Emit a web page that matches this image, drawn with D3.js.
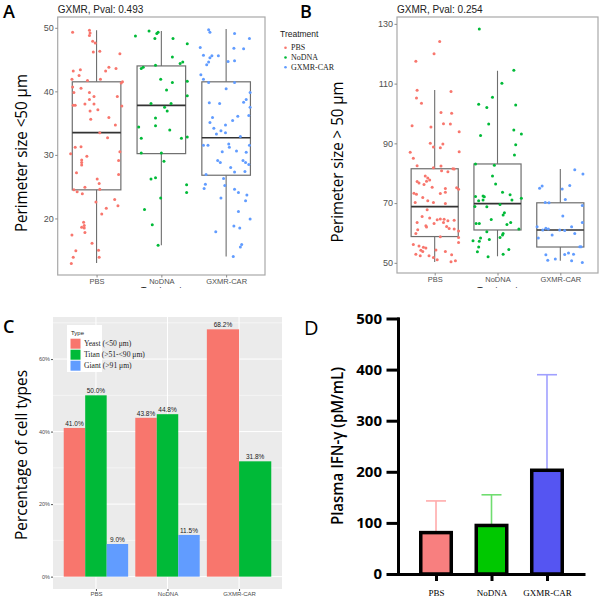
<!DOCTYPE html>
<html>
<head>
<meta charset="utf-8">
<script src="https://cdn.jsdelivr.net/npm/d3@7"></script>
<style>
  body { margin: 0; background: #fff; }
  text { font-family: "Liberation Sans", Arial, sans-serif; }
</style>
</head>
<body>
<svg id="fig" width="600" height="597"></svg>
<script>
const treatments = ["PBS", "NoDNA", "GXMR-CAR"];
const treatColors = ["#F8766D", "#00BA38", "#619CFF"];

// Panel A: perimeter < 50 um, points are [jitter, value]
const smallPBS = [[-0.37,49.3],[-0.11,49.6],[-0.10,49.2],[-0.11,48.8],[-0.06,47.9],[-0.02,47.6],[-0.05,46.2],[0.05,46.3],[0.36,45.9],
  [-0.36,43.2],[-0.25,43.4],[-0.27,42.5],[0.14,43.2],[0.19,43.8],[0.30,43.6],[-0.38,41.9],[-0.14,41.7],[0.06,41.9],[0.40,41.5],[0.38,41.3],
  [-0.37,40.7],[-0.24,40.5],[-0.35,39.8],[-0.11,39.8],[-0.04,39.2],[0.32,39.2],[-0.11,38.7],[-0.36,37.8],[-0.33,37.8],[-0.18,38.0],
  [-0.04,38.0],[0.39,37.7],[-0.10,36.9],[0.02,37.1],[0.19,35.9],[-0.09,35.6],[0.29,34.7],[0.05,33.5],[0.17,32.7],[-0.33,31.2],[-0.24,31.3],
  [-0.40,30.2],[-0.15,29.8],[-0.23,29.2],[-0.23,28.8],[-0.23,28.4],[-0.31,27.2],[0.36,30.5],[0.34,29.1],[0.34,26.9],[0.01,26.2],[0.04,25.5],
  [-0.18,24.9],[0.05,24.6],[-0.35,24.5],[-0.30,24.2],[-0.22,23.9],[0.28,23.0],[-0.01,22.6],[0.33,22.0],[0.15,21.6],[0.08,20.7],
  [-0.20,19.4],[-0.19,18.9],[-0.23,18.6],[-0.19,18.5],[-0.18,17.8],[-0.38,17.4],[-0.07,16.1],[-0.32,14.9],[0.03,15.0],[-0.36,13.9],
  [0.04,13.9],[-0.39,12.9]];
const smallNoDNA = [[-0.40,48.7],[-0.19,49.5],[-0.07,49.1],[-0.05,49.3],[-0.10,48.3],[0.18,48.3],[0.40,47.5],[0.17,45.4],[0.33,44.6],
  [0.29,44.4],[-0.31,43.6],[-0.28,43.8],[-0.09,44.1],[-0.01,41.9],[0.17,41.4],[0.40,41.6],[0.08,40.2],[0.40,39.3],[-0.16,38.1],[0.15,38.1],
  [0.05,37.5],[0.09,36.9],[-0.09,35.8],[-0.09,34.6],[-0.35,34.4],[0.13,33.9],[-0.31,32.6],[0.31,32.6],[0.40,32.8],[-0.31,30.3],[0.00,30.3],
  [0.04,29.0],[-0.16,26.2],[-0.09,26.4],[0.39,25.3],[0.39,24.1],[-0.01,23.2],[-0.26,21.4],[-0.14,19.0],[-0.05,15.8]];
const smallGXMR = [[-0.27,49.7],[-0.25,49.3],[0.13,49.1],[0.36,48.3],[-0.40,46.9],[0.12,46.8],[0.27,46.7],[-0.35,45.7],[-0.22,45.6],
  [-0.25,45.3],[-0.12,45.6],[-0.30,44.2],[-0.27,44.6],[0.03,44.7],[0.13,44.8],[-0.39,42.6],[-0.35,41.9],[-0.27,41.4],[0.13,41.4],[0.00,40.4],
  [0.37,39.8],[0.31,38.7],[0.27,38.3],[-0.26,38.2],[-0.10,38.1],[0.37,37.5],[0.35,36.2],[-0.21,35.9],[0.18,36.1],[0.10,35.4],[-0.25,35.1],
  [-0.01,34.7],[-0.19,34.2],[-0.08,33.8],[-0.15,33.3],[-0.01,33.5],[0.22,32.9],[-0.35,31.5],[-0.28,31.5],[0.04,31.7],[0.36,31.5],[0.05,31.2],
  [-0.06,30.5],[0.16,30.6],[0.31,30.4],[-0.13,29.1],[-0.09,28.8],[0.26,29.1],[0.30,28.8],[0.35,28.5],[0.07,28.0],[0.13,27.3],[0.29,27.4],
  [-0.31,26.9],[-0.04,26.3],[-0.32,25.4],[-0.02,25.2],[-0.34,24.7],[0.13,24.6],[0.19,24.1],[0.32,23.7],[-0.08,23.2],[0.30,22.8],[0.19,21.1],
  [0.37,19.9],[0.12,18.8],[0.21,18.5],[-0.16,17.9],[0.24,15.9],[0.22,15.5],[0.11,14.0]];
// [lower whisker, Q1, median, Q3, upper whisker]
const smallBoxes = [[13.0,24.5,33.5,41.5,49.6],[15.8,30.2,37.8,44.0,49.5],[14.0,26.8,32.7,41.5,49.8]];
const smallTicks = [20, 30, 40, 50];

// Panel B: perimeter > 50 um
const largePBS = [[-0.30,117.5],[-0.01,120.0],[0.08,124.1],[-0.28,107.8],[-0.29,105.2],[-0.21,103.4],[0.26,107.4],[-0.36,95.9],
  [-0.06,95.5],[0.10,100.3],[0.27,100.1],[0.14,96.6],[0.25,96.5],[0.39,93.9],[-0.07,90.0],[-0.02,88.8],[0.13,89.8],[0.09,88.5],
  [-0.39,87.0],[-0.34,85.0],[0.39,87.2],[-0.28,82.5],[-0.02,81.8],[0.10,82.4],[0.11,80.8],[0.29,81.5],[0.31,81.4],[0.21,80.5],
  [-0.15,79.1],[-0.11,78.4],[-0.28,77.2],[-0.25,76.7],[-0.17,76.2],[-0.13,77.3],[-0.08,77.7],[-0.04,75.3],[0.17,74.9],[0.17,73.6],
  [0.35,75.1],[0.38,74.6],[-0.29,73.0],[-0.33,73.3],[0.09,73.2],[-0.19,71.9],[-0.11,70.8],[-0.02,70.2],[0.17,69.9],[-0.31,70.2],
  [-0.12,67.8],[-0.20,65.5],[-0.08,65.0],[0.04,64.4],[0.09,64.7],[0.15,64.6],[0.14,63.5],[0.21,64.1],[0.31,64.3],[-0.28,63.5],
  [-0.14,62.4],[-0.01,63.2],[0.19,62.2],[0.23,61.5],[-0.13,62.0],[-0.27,61.1],[0.31,61.3],[0.38,60.7],[-0.30,59.8],[0.09,58.7],
  [0.38,58.5],[0.38,56.8],[-0.34,56.1],[-0.25,55.6],[-0.18,55.2],[-0.14,55.0],[-0.22,54.2],[-0.19,53.8],[0.02,54.3],[0.17,53.8],
  [-0.30,52.9],[-0.23,52.4],[-0.09,52.4],[-0.02,51.8],[0.04,51.0],[0.27,52.7],[0.33,50.7],[0.26,50.4]];
const largeNoDNA = [[-0.29,128.3],[0.07,110.1],[0.26,114.5],[-0.08,105.4],[-0.30,103.1],[-0.17,102.0],[0.29,102.8],[-0.14,96.5],
  [-0.27,92.6],[0.26,94.5],[0.38,93.1],[0.29,89.5],[0.27,86.1],[-0.35,83.1],[-0.05,82.7],[-0.08,79.1],[-0.03,76.4],[0.08,73.6],
  [-0.35,72.2],[-0.23,72.4],[-0.21,72.1],[0.20,72.8],[0.38,71.6],[0.23,71.0],[-0.30,70.8],[-0.23,71.0],[-0.36,68.9],[-0.17,68.8],
  [0.04,69.5],[0.11,66.8],[0.09,66.0],[-0.10,64.5],[-0.34,63.2],[-0.29,63.2],[0.21,63.5],[0.15,62.8],[0.34,61.3],[-0.17,60.4],
  [0.08,59.3],[0.04,58.5],[-0.27,58.3],[-0.39,57.4],[-0.29,57.2],[-0.13,57.8],[0.09,59.8],[-0.30,55.3],[0.18,54.5],[-0.32,53.7],
  [0.09,52.9],[-0.15,52.0]];
const largeGXMR = [[-0.33,75.0],[-0.29,75.7],[0.03,74.7],[0.15,75.9],[0.23,81.2],[0.36,79.7],[0.08,71.2],[-0.24,70.2],[-0.18,70.1],
  [0.35,69.2],[0.04,65.7],[-0.37,62.1],[-0.23,61.6],[-0.19,61.3],[-0.28,61.0],[-0.01,61.0],[0.07,60.8],[0.23,59.8],[-0.13,59.3],
  [0.35,63.5],[0.18,62.1],[-0.35,58.3],[0.31,55.4],[0.33,55.4],[-0.23,52.7],[-0.08,51.3],[-0.20,50.9],[0.13,53.3],[0.21,52.9],
  [0.18,50.7],[0.35,50.1],[0.07,52.8]];
const largeBoxes = [[50.3,58.8,68.8,81.5,107.9],[52.2,61.0,69.8,83.1,114.3],[50.7,55.3,61.0,70.1,81.4]];
const largeTicks = [50, 70, 90, 110, 130];

// Panel C: percentage of cell types
const cellTypes = ["Yeast (<50 \u03bcm)", "Titan (>51-<90 \u03bcm)", "Giant (>91 \u03bcm)"];
const typeColors = ["#F8766D", "#00BA38", "#619CFF"];
const yeastPct = [41.0, 43.8, 68.2];
const titanPct = [50.0, 44.8, 31.8];
const giantPct = [9.0, 11.5, null];
const pctTicks = [0, 20, 40, 60];

// Panel D: plasma IFN-gamma
const ifnMean = [81, 95, 203];
const ifnUpper = [143, 155, 390];
const ifnFill = ["#f87f7f", "#00c800", "#5555f2"];
const ifnErr = ["#ffabab", "#70dd70", "#a0a0ff"];
const ifnTicks = [0, 100, 200, 300, 400, 500];

const svg = d3.select("#fig");

function panelLetter(s, x, y, size, weight) {
  svg.append("text").attr("x", x).attr("y", y).text(s)
    .style("font-family", "'Open Sans'").style("font-size", size + "px").style("font-weight", weight);
}

function rotLabel(s, x, y, len, size, weight) {
  svg.append("text").attr("transform", `translate(${x},${y}) rotate(-90)`)
    .attr("text-anchor", "middle").attr("textLength", len).attr("lengthAdjust", "spacingAndGlyphs")
    .style("font-family", "'Open Sans'").style("font-size", size + "px").style("font-weight", weight)
    .text(s);
}

function boxPanel(o) {
  const g = svg.append("g");
  const x = d3.scaleLinear().domain([0.4, 3.6]).range([o.left, o.right]);
  const y = d3.scaleLinear().domain(o.yDomain).range([o.bottom, o.top]);
  const hw = x(1.375) - x(1);

  o.boxes.forEach(function(b, i) {
    const cx = x(i + 1);
    g.append("line").attr("x1", cx).attr("x2", cx).attr("y1", y(b[0])).attr("y2", y(b[1]))
      .attr("stroke", "#6e6e6e").attr("stroke-width", 1.1);
    g.append("line").attr("x1", cx).attr("x2", cx).attr("y1", y(b[3])).attr("y2", y(b[4]))
      .attr("stroke", "#6e6e6e").attr("stroke-width", 1.1);
    g.append("rect").attr("x", cx - hw).attr("y", y(b[3])).attr("width", 2 * hw).attr("height", y(b[1]) - y(b[3]))
      .attr("fill", "none").attr("stroke", "#6e6e6e").attr("stroke-width", 1.2);
    g.append("line").attr("x1", cx - hw).attr("x2", cx + hw).attr("y1", y(b[2])).attr("y2", y(b[2]))
      .attr("stroke", "#333").attr("stroke-width", 1.7);
  });

  o.points.forEach(function(pts, i) {
    g.selectAll(null).data(pts).join("circle")
      .attr("cx", d => x(i + 1 + d[0]))
      .attr("cy", d => y(d[1]))
      .attr("r", 1.5)
      .attr("fill", treatColors[i]);
  });

  g.append("rect").attr("x", o.left).attr("y", o.top).attr("width", o.right - o.left).attr("height", o.bottom - o.top)
    .attr("fill", "none").attr("stroke", "#a8a8a8").attr("stroke-width", 1.2);

  const ya = g.append("g").attr("transform", `translate(${o.left},0)`)
    .call(d3.axisLeft(y).tickValues(o.ticks).tickSize(2.5).tickPadding(1.5).tickFormat(d3.format("d")));
  ya.select(".domain").remove();
  ya.selectAll("line").attr("stroke", "#8a8a8a");
  ya.selectAll("text").attr("fill", "#505050").style("font-size", "9px").style("font-family", "'Liberation Sans'");

  const xa = g.append("g").attr("transform", `translate(0,${o.bottom})`)
    .call(d3.axisBottom(x).tickValues([1, 2, 3]).tickFormat(i => treatments[i - 1]).tickSize(2.5).tickPadding(1));
  xa.select(".domain").remove();
  xa.selectAll("line").attr("stroke", "#8a8a8a");
  xa.selectAll("text").attr("fill", "#505050").style("font-size", "7.5px").style("font-family", "'Liberation Sans'");

  // title
  svg.append("text").attr("x", o.left).attr("y", 13).text(o.title)
    .style("font-size", "10px").attr("fill", "#222");

  // x axis title, mostly hidden under the next panel
  const clipId = "clip" + o.left;
  svg.append("clipPath").attr("id", clipId).append("rect")
    .attr("x", o.left).attr("y", 282).attr("width", o.right - o.left).attr("height", 6);
  svg.append("text").attr("x", x(2)).attr("y", 292.5).attr("text-anchor", "middle")
    .attr("clip-path", `url(#${clipId})`).style("font-size", "9px").attr("fill", "#222").text("Treatment");
}

// ---- Panel A
boxPanel({ left: 57.7, right: 265, top: 17, bottom: 275, yDomain: [11.1, 51.7],
  boxes: smallBoxes, points: [smallPBS, smallNoDNA, smallGXMR], ticks: smallTicks, title: "GXMR, Pval: 0.493" });
panelLetter("A", 3, 17.5, 18, 600);
rotLabel("Perimeter size <50 \u03bcm", 27, 153, 158, 17, 400);

// legend for A/B
svg.append("text").attr("x", 280).attr("y", 37).text("Treatment").style("font-size", "8.5px").attr("fill", "#222");
treatments.forEach(function(t, i) {
  const ly = 47.7 + i * 9.8;
  svg.append("circle").attr("cx", 285.5).attr("cy", ly).attr("r", 1.3).attr("fill", treatColors[i]);
  svg.append("text").attr("x", 291).attr("y", ly).attr("dy", "0.33em").text(t)
    .style("font-family", "'Liberation Serif'").style("font-size", "8px").attr("fill", "#222");
});

// ---- Panel B
boxPanel({ left: 397, right: 598, top: 17, bottom: 273, yDomain: [46.6, 132.3],
  boxes: largeBoxes, points: [largePBS, largeNoDNA, largeGXMR], ticks: largeTicks, title: "GXMR, Pval: 0.254" });
panelLetter("B", 300, 17.5, 18, 600);
rotLabel("Perimeter size > 50 \u03bcm", 343, 162, 161, 17, 400);

// ---- Panel C
(function() {
  const left = 53, right = 282, top = 317, bottom = 589;
  const g = svg.append("g");
  const x = d3.scaleLinear().domain([0.4, 3.6]).range([left, right]);
  const y = d3.scaleLinear().domain([-3.41, 71.6]).range([bottom, top]);

  g.append("rect").attr("x", left).attr("y", top).attr("width", right - left).attr("height", bottom - top).attr("fill", "#ebebeb");
  [10, 30, 50, 70].forEach(v => g.append("line").attr("x1", left).attr("x2", right).attr("y1", y(v)).attr("y2", y(v))
    .attr("stroke", "#fff").attr("stroke-width", 0.5));
  pctTicks.forEach(v => g.append("line").attr("x1", left).attr("x2", right).attr("y1", y(v)).attr("y2", y(v))
    .attr("stroke", "#fff").attr("stroke-width", 1));
  [1, 2, 3].forEach(v => g.append("line").attr("x1", x(v)).attr("x2", x(v)).attr("y1", top).attr("y2", bottom)
    .attr("stroke", "#fff").attr("stroke-width", 1));

  const series = [yeastPct, titanPct, giantPct];
  treatments.forEach(function(t, i) {
    const present = series.map((s, k) => ({ k: k, v: s[i] })).filter(d => d.v != null);
    const w = 0.9 / present.length;
    present.forEach(function(d, j) {
      const x0 = x(i + 1 - 0.45 + j * w), x1 = x(i + 1 - 0.45 + (j + 1) * w);
      g.append("rect").attr("x", x0).attr("y", y(d.v)).attr("width", x1 - x0).attr("height", y(0) - y(d.v))
        .attr("fill", typeColors[d.k]);
      g.append("text").attr("x", (x0 + x1) / 2).attr("y", y(d.v) - 2).attr("text-anchor", "middle")
        .text(d.v.toFixed(1) + "%").style("font-size", "6.5px").attr("fill", "#1a1a1a");
    });
  });

  const ya = g.append("g").attr("transform", `translate(${left},0)`)
    .call(d3.axisLeft(y).tickValues(pctTicks).tickSize(2).tickPadding(1).tickFormat(d => d + "%"));
  ya.select(".domain").remove();
  ya.selectAll("line").attr("stroke", "#555");
  ya.selectAll("text").attr("fill", "#4d4d4d").style("font-size", "5.5px");

  const xa = g.append("g").attr("transform", `translate(0,${bottom})`)
    .call(d3.axisBottom(x).tickValues([1, 2, 3]).tickFormat(i => treatments[i - 1]).tickSize(2).tickPadding(1));
  xa.select(".domain").remove();
  xa.selectAll("line").attr("stroke", "#555");
  xa.selectAll("text").attr("fill", "#4d4d4d").style("font-size", "6px");

  // legend
  g.append("rect").attr("x", 67).attr("y", 325).attr("width", 35).attr("height", 47).attr("fill", "#fff");
  g.append("text").attr("x", 71).attr("y", 335).text("Type").style("font-size", "6px").attr("fill", "#222");
  cellTypes.forEach(function(c, k) {
    const ky = 338.7 + k * 11;
    g.append("rect").attr("x", 70.5).attr("y", ky).attr("width", 10).attr("height", 10).attr("fill", typeColors[k]);
    g.append("text").attr("x", 84).attr("y", ky + 5).attr("dy", "0.33em").text(c)
      .style("font-family", "'Liberation Serif'").style("font-size", "7.6px").attr("fill", "#222");
  });
})();
panelLetter("C", 3, 332.5, 18, 600);
rotLabel("Percentage of cell types", 27, 455, 170, 17, 400);

// ---- Panel D
(function() {
  const g = svg.append("g");
  const x = d3.scalePoint().domain(treatments).range([398, 585]).padding(0.685);
  const y = d3.scaleLinear().domain([0, 500]).range([574, 318.5]);
  const bw = 30.5;

  treatments.forEach(function(t, i) {
    const cx = x(t);
    g.append("line").attr("x1", cx).attr("x2", cx).attr("y1", y(ifnMean[i])).attr("y2", y(ifnUpper[i]))
      .attr("stroke", ifnErr[i]).attr("stroke-width", 1.6);
    g.append("line").attr("x1", cx - 10).attr("x2", cx + 10).attr("y1", y(ifnUpper[i])).attr("y2", y(ifnUpper[i]))
      .attr("stroke", ifnErr[i]).attr("stroke-width", 1.6);
    g.append("rect").attr("x", cx - bw / 2).attr("y", y(ifnMean[i])).attr("width", bw).attr("height", y(0) - y(ifnMean[i]))
      .attr("fill", ifnFill[i]).attr("stroke", "#000").attr("stroke-width", 3.5);
  });

  const ya = g.append("g").attr("transform", "translate(398,0)")
    .call(d3.axisLeft(y).tickValues(ifnTicks).tickSize(10).tickSizeOuter(0).tickPadding(6));
  ya.selectAll("path, line").attr("stroke", "#000").attr("stroke-width", 3).attr("stroke-linecap", "square");
  ya.selectAll("text").attr("fill", "#000").style("font-family", "'Open Sans'").style("font-size", "15px").style("font-weight", 700);

  const xa = g.append("g").attr("transform", "translate(0,574)")
    .call(d3.axisBottom(x).tickSize(7).tickSizeOuter(0).tickPadding(9));
  xa.selectAll("path, line").attr("stroke", "#000").attr("stroke-width", 3);
  xa.selectAll("text").attr("fill", "#000").style("font-family", "'Liberation Serif'").style("font-size", "9px");
})();
panelLetter("D", 304, 335, 20, 400);
rotLabel("Plasma IFN-\u03b3 (pM/mL)", 343, 446, 158, 16, 600);
</script>
</body>
</html>
